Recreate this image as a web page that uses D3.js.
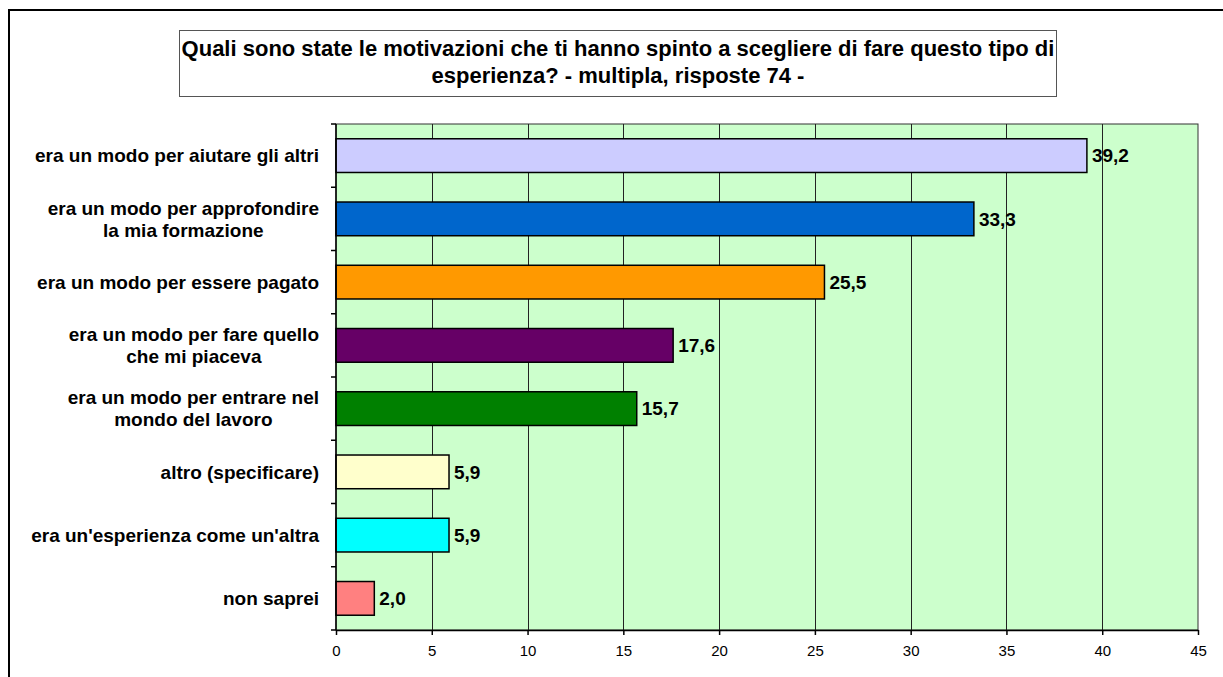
<!DOCTYPE html>
<html>
<head>
<meta charset="utf-8">
<script src="https://cdn.jsdelivr.net/npm/d3@7"></script>
<style>
  body { margin: 0; background: #fff; }
  svg { display: block; font-family: "Liberation Sans", Arial, sans-serif; }
</style>
</head>
<body>
<div id="chart"></div>
<script>
// chart data
var categories = [
  ["era un modo per aiutare gli altri"],
  ["era un modo per approfondire", "la mia formazione"],
  ["era un modo per essere pagato"],
  ["era un modo per fare quello", "che mi piaceva"],
  ["era un modo per entrare nel", "mondo del lavoro"],
  ["altro (specificare)"],
  ["era un'esperienza come un'altra"],
  ["non saprei"]
]
var values = [39.2, 33.3, 25.5, 17.6, 15.7, 5.9, 5.9, 2.0]
var barColors = ["#CCCCFF", "#0066CC", "#FF9900", "#660066", "#008000", "#FFFFCC", "#00FFFF", "#FF8080"]
var xTicks = [0, 5, 10, 15, 20, 25, 30, 35, 40, 45]
var titleLines = [
  "Quali sono state le motivazioni che ti hanno spinto a scegliere di fare questo tipo di",
  "esperienza? - multipla, risposte 74 -"
]

var width = 1223,
    height = 677

var svg = d3.select("#chart")
  .append("svg")
  .attr("width", width)
  .attr("height", height)

// outer frame (runs off the right and bottom edge)
svg.append("rect")
  .attr("x", 9).attr("y", 10)
  .attr("width", 1240).attr("height", 700)
  .attr("fill", "#fff")
  .attr("stroke", "#000")
  .attr("stroke-width", 2)

// title box
svg.append("rect")
  .attr("x", 179.5).attr("y", 30.5)
  .attr("width", 877).attr("height", 66)
  .attr("fill", "#fff")
  .attr("stroke", "#555")
  .attr("stroke-width", 1)

svg.selectAll(".title")
  .data(titleLines)
  .enter()
  .append("text")
  .attr("class", "title")
  .attr("x", 618)
  .attr("y", function(d, i) { return 56 + i * 27 })
  .attr("text-anchor", "middle")
  .style("font-size", "22px")
  .style("font-weight", "bold")
  .text(function(d) { return d })

var plot = { left: 336, right: 1198, top: 124, bottom: 630 }

var x = d3.scaleLinear()
  .domain([0, 45])
  .range([plot.left, plot.right])

var y = d3.scaleBand()
  .domain(d3.range(categories.length))
  .range([plot.top, plot.bottom])
  .paddingInner(0.467)
  .paddingOuter(0.2335)

// plot background
svg.append("rect")
  .attr("x", plot.left).attr("y", plot.top)
  .attr("width", plot.right - plot.left)
  .attr("height", plot.bottom - plot.top)
  .attr("fill", "#CCFFCC")
  .attr("stroke", "#333")
  .attr("stroke-width", 1)

// vertical grid lines
svg.selectAll(".grid")
  .data(xTicks.slice(1, -1))
  .enter()
  .append("line")
  .attr("class", "grid")
  .attr("x1", function(d) { return Math.round(x(d)) + 0.5 })
  .attr("x2", function(d) { return Math.round(x(d)) + 0.5 })
  .attr("y1", plot.top)
  .attr("y2", plot.bottom)
  .attr("stroke", "#222")
  .attr("stroke-width", 1)

// bars
svg.selectAll(".bar")
  .data(values)
  .enter()
  .append("rect")
  .attr("class", "bar")
  .attr("x", x(0))
  .attr("y", function(d, i) { return y(i) })
  .attr("width", function(d) { return x(d) - x(0) })
  .attr("height", y.bandwidth())
  .attr("fill", function(d, i) { return barColors[i] })
  .attr("stroke", "#000")
  .attr("stroke-width", 1.5)

// value labels
svg.selectAll(".val")
  .data(values)
  .enter()
  .append("text")
  .attr("class", "val")
  .attr("x", function(d) { return x(d) + 5 })
  .attr("y", function(d, i) { return y(i) + y.bandwidth() / 2 })
  .attr("dy", "0.35em")
  .style("font-size", "19px")
  .style("font-weight", "bold")
  .text(function(d) { return d.toFixed(1).replace(".", ",") })

// x axis
var xAxis = svg.append("g")
  .attr("transform", "translate(0," + plot.bottom + ")")
  .call(d3.axisBottom(x).tickValues(xTicks).tickSize(5).tickSizeOuter(0))
xAxis.select(".domain").attr("stroke", "#000").attr("stroke-width", 1.5)
xAxis.selectAll(".tick line").attr("stroke", "#000").attr("stroke-width", 1.5)
xAxis.selectAll(".tick text")
  .attr("y", 15)
  .style("font-family", "Liberation Sans, Arial, sans-serif")
  .style("font-size", "15px")
  .attr("fill", "#000")

// y axis line and ticks at band boundaries
var step = y.step()
var boundaries = d3.range(categories.length + 1).map(function(i) { return plot.top + i * step })
svg.append("line")
  .attr("x1", plot.left).attr("x2", plot.left)
  .attr("y1", plot.top).attr("y2", plot.bottom)
  .attr("stroke", "#000").attr("stroke-width", 1.5)
svg.selectAll(".ytick")
  .data(boundaries)
  .enter()
  .append("line")
  .attr("class", "ytick")
  .attr("x1", plot.left - 5).attr("x2", plot.left)
  .attr("y1", function(d) { return d }).attr("y2", function(d) { return d })
  .attr("stroke", "#000").attr("stroke-width", 1.5)

// category labels: lines centered within a block that is right-aligned
var labelRight = 319
var lineH = 22
categories.forEach(function(lines, i) {
  var cy = y(i) + y.bandwidth() / 2
  var g = svg.append("g")
  var texts = lines.map(function(line, j) {
    return g.append("text")
      .attr("y", cy + (j - (lines.length - 1) / 2) * lineH)
      .attr("dy", "0.35em")
      .attr("text-anchor", "middle")
      .style("font-size", "19px")
      .style("font-weight", "bold")
      .text(line)
  })
  var maxW = d3.max(texts, function(t) { return t.node().getComputedTextLength() })
  texts.forEach(function(t) { t.attr("x", labelRight - maxW / 2) })
})
</script>
</body>
</html>
